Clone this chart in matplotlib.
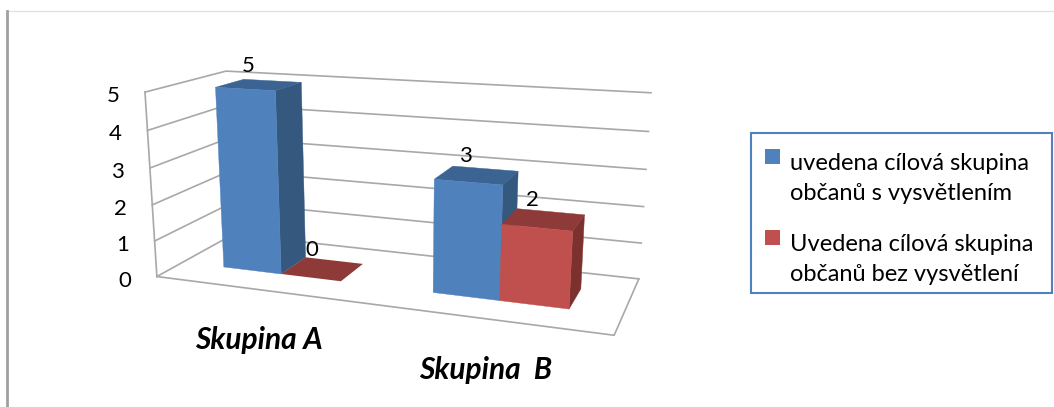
import numpy as np
import matplotlib
matplotlib.use("Agg")
import matplotlib.pyplot as plt
from matplotlib.patches import Polygon, Patch, Rectangle
from matplotlib.legend_handler import HandlerPatch

plt.rcParams['font.family'] = ['Lato', 'DejaVu Sans']

categories = ["Skupina A", "Skupina  B"]
series_names = ["uvedena cílová skupina\nobčanů s vysvětlením",
                "Uvedena cílová skupina\nobčanů bez vysvětlení"]
with_explanation = [5, 3]
without_explanation = [0, 2]
value_ticks = [0, 1, 2, 3, 4, 5]

BLUE = dict(front='#4f81bd', side='#35587f', top='#3b6492')
RED = dict(front='#c0504d', side='#7c312f', top='#8e3a38')
GRID = '#a8a8a8'
MAX_VALUE = 5
BAR_WIDTH = 0.144
DEPTH_NEAR, DEPTH_FAR = 0.316, 0.686
GROUP_CENTRES = [0.25, 0.749]

# Calibration of the 3D box: (x, depth, height) in unit coordinates -> figure pixels
box_units = np.array([(0,0,0),(1,0,0),(1,1,0),(0,1,0),(0,0,1),(0,1,1),(1,1,1)], float)
box_pixels = np.array([(157,276),(614,336),(639,278),(233,235),(145,92),(226,71),(651,93)], float)

A, b = [], []
for (X, Y, Z), (u, v) in zip(box_units, box_pixels):
    A.append([X, Y, Z, 1, 0, 0, 0, 0, -u*X, -u*Y, -u*Z]); b.append(u)
    A.append([0, 0, 0, 0, X, Y, Z, 1, -v*X, -v*Y, -v*Z]); b.append(v)
p = np.linalg.lstsq(np.array(A), np.array(b), rcond=None)[0]
P = np.append(p, 1.0).reshape(3, 4)


def project(x, d, h):
    q = P @ np.array([x, d, h, 1.0])
    return q[0] / q[2], q[1] / q[2]


def draw_bar(ax, x0, x1, value, colours, z):
    h = value / MAX_VALUE
    n, f = DEPTH_NEAR, DEPTH_FAR
    if value == 0:
        quad = [project(x0, n, 0), project(x1, n, 0), project(x1, f, 0), project(x0, f, 0)]
        ax.add_patch(Polygon(quad, closed=True, fc=colours['top'], ec='none', zorder=z))
        return
    faces = [
        ([project(x1, n, 0), project(x1, f, 0), project(x1, f, h), project(x1, n, h)], colours['side']),
        ([project(x0, n, h), project(x1, n, h), project(x1, f, h), project(x0, f, h)], colours['top']),
        ([project(x0, n, 0), project(x1, n, 0), project(x1, n, h), project(x0, n, h)], colours['front']),
    ]
    for quad, colour in faces:
        ax.add_patch(Polygon(quad, closed=True, fc=colour, ec=colour, lw=0.3, zorder=z))


class RaisedSwatch(HandlerPatch):
    """Square legend key lined up with the first line of a two-line label."""
    def create_artists(self, legend, orig, xd, yd, w, h, fs, trans):
        return [Rectangle((0, 16.5), 10.8, 10.8, fc=orig.get_facecolor(), ec='none', transform=trans)]


fig = plt.figure(figsize=(10.54, 4.07), dpi=100)
ax = fig.add_axes([0, 0, 1, 1])
ax.set_xlim(0, 1054)
ax.set_ylim(407, 0)
ax.axis('off')

# Outer frame: only the top and left edges show
ax.plot([8, 1054], [11, 11], color='#e2e2e2', lw=1.0, zorder=1)
ax.plot([7, 7], [11, 407], color='#a0a0a0', lw=2.0, zorder=1)

# Walls, gridlines and floor
for v in value_ticks:
    h = v / MAX_VALUE
    ax.plot(*zip(project(0, 0, h), project(0, 1, h), project(1, 1, h)), color=GRID, lw=1.2, zorder=2)
    x, y = project(0, 0, h)
    ax.text(x - 32, y + 4, str(v), fontsize=16, ha='center', va='center', color='black', zorder=6)
ax.plot(*zip(project(0, 0, 0), project(0, 0, 1)), color=GRID, lw=1.2, zorder=2)
ax.plot(*zip(project(0, 0, 0), project(1, 0, 0), project(1, 1, 0)), color=GRID, lw=1.2, zorder=2)

# Bars, far-left to near-right so that later ones cover earlier ones
z = 3
for i, centre in enumerate(GROUP_CENTRES):
    draw_bar(ax, centre - BAR_WIDTH, centre, with_explanation[i], BLUE, z)
    draw_bar(ax, centre, centre + BAR_WIDTH, without_explanation[i], RED, z + 0.1)
    z += 0.2

# Value labels above the bar tops
mid_depth = (DEPTH_NEAR + DEPTH_FAR) / 2
for i, centre in enumerate(GROUP_CENTRES):
    for x_mid, val in ((centre - BAR_WIDTH / 2, with_explanation[i]),
                       (centre + BAR_WIDTH / 2, without_explanation[i])):
        x, y = project(x_mid, mid_depth, val / MAX_VALUE)
        ax.annotate(str(val), (x, y), xytext=(-11, 19), textcoords='offset pixels',
                    fontsize=16, ha='center', va='center', color='black', zorder=6)

# Category labels
ax.text(259, 340, categories[0], fontsize=21.5, fontweight='bold', fontstyle='italic',
        ha='center', va='center', color='black', zorder=6)
ax.text(486, 370, categories[1], fontsize=21.5, fontweight='bold', fontstyle='italic',
        ha='center', va='center', color='black', zorder=6)

# Legend: a separate box keeps the entries free to sit off-centre inside it
ax.add_patch(Rectangle((751, 133), 301, 160, fc='white', ec='#4f81bd', lw=1.5, zorder=6.5))
handles = [Patch(facecolor=BLUE['front'], label=series_names[0]),
           Patch(facecolor=RED['front'], label=series_names[1])]
leg = ax.legend(handles=handles, loc='upper left',
                bbox_to_anchor=(751, 139), bbox_transform=ax.transData,
                prop={'size': 17}, frameon=False, borderpad=0.6, labelspacing=1.29,
                handlelength=0.64, handletextpad=0.4, borderaxespad=0,
                handler_map={Patch: RaisedSwatch()})
for t in leg.get_texts():
    t.set_linespacing(1.5)
leg.set_zorder(7)

plt.savefig("out.png", dpi=100)
